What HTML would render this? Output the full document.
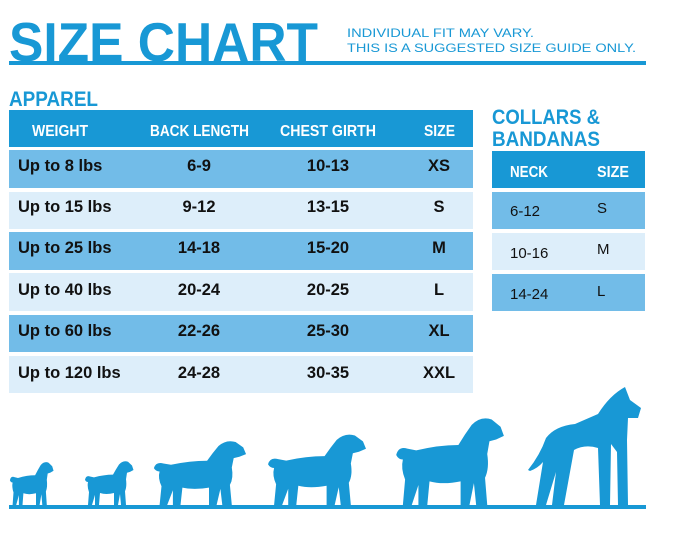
<!DOCTYPE html>
<html><head><meta charset="utf-8"><style>
html,body{margin:0;padding:0;background:#fff;}
svg{display:block;}
text{font-family:"Liberation Sans",sans-serif;}
</style></head><body>
<svg width="683" height="533" viewBox="0 0 683 533" xmlns="http://www.w3.org/2000/svg">
<rect width="683" height="533" fill="#fff"/>
<text x="9" y="61" font-size="55" font-weight="bold" fill="#1898d5" textLength="309" lengthAdjust="spacingAndGlyphs" style="font-family:'Liberation Sans Narrow','Liberation Sans',sans-serif">SIZE CHART</text>
<text x="347" y="37" font-size="12" fill="#1898d5" textLength="187" lengthAdjust="spacingAndGlyphs">INDIVIDUAL FIT MAY VARY.</text>
<text x="347" y="52" font-size="12" fill="#1898d5" textLength="289" lengthAdjust="spacingAndGlyphs">THIS IS A SUGGESTED SIZE GUIDE ONLY.</text>
<rect x="9" y="61" width="637" height="4" fill="#1898d5"/>

<text x="9" y="106" font-size="21" font-weight="bold" fill="#1898d5" textLength="89" lengthAdjust="spacingAndGlyphs">APPAREL</text>
<text x="492" y="124" font-size="21" font-weight="bold" fill="#1898d5" textLength="108" lengthAdjust="spacingAndGlyphs">COLLARS &amp;</text>
<text x="492" y="146" font-size="21" font-weight="bold" fill="#1898d5" textLength="108" lengthAdjust="spacingAndGlyphs">BANDANAS</text>

<rect x="9" y="110" width="464" height="37" fill="#1898d5"/>
<g font-size="16" font-weight="bold" fill="#fff">
<text x="32" y="136" textLength="56" lengthAdjust="spacingAndGlyphs">WEIGHT</text>
<text x="150" y="136" textLength="99" lengthAdjust="spacingAndGlyphs">BACK LENGTH</text>
<text x="280" y="136" textLength="96" lengthAdjust="spacingAndGlyphs">CHEST GIRTH</text>
<text x="424" y="136" textLength="31" lengthAdjust="spacingAndGlyphs">SIZE</text>
</g>
<rect x="9" y="150" width="464" height="38" fill="#72bce8"/>
<rect x="9" y="192" width="464" height="37" fill="#ddeefa"/>
<rect x="9" y="232" width="464" height="38" fill="#72bce8"/>
<rect x="9" y="273" width="464" height="38" fill="#ddeefa"/>
<rect x="9" y="315" width="464" height="37" fill="#72bce8"/>
<rect x="9" y="356" width="464" height="37" fill="#ddeefa"/>
<g font-size="16.5" font-weight="bold" fill="#111">
<text x="18" y="171">Up to 8 lbs</text><text x="199" y="171" text-anchor="middle">6-9</text><text x="328" y="171" text-anchor="middle">10-13</text><text x="439" y="171" text-anchor="middle">XS</text>
<text x="18" y="212">Up to 15 lbs</text><text x="199" y="212" text-anchor="middle">9-12</text><text x="328" y="212" text-anchor="middle">13-15</text><text x="439" y="212" text-anchor="middle">S</text>
<text x="18" y="253">Up to 25 lbs</text><text x="199" y="253" text-anchor="middle">14-18</text><text x="328" y="253" text-anchor="middle">15-20</text><text x="439" y="253" text-anchor="middle">M</text>
<text x="18" y="295">Up to 40 lbs</text><text x="199" y="295" text-anchor="middle">20-24</text><text x="328" y="295" text-anchor="middle">20-25</text><text x="439" y="295" text-anchor="middle">L</text>
<text x="18" y="336">Up to 60 lbs</text><text x="199" y="336" text-anchor="middle">22-26</text><text x="328" y="336" text-anchor="middle">25-30</text><text x="439" y="336" text-anchor="middle">XL</text>
<text x="18" y="378">Up to 120 lbs</text><text x="199" y="378" text-anchor="middle">24-28</text><text x="328" y="378" text-anchor="middle">30-35</text><text x="439" y="378" text-anchor="middle">XXL</text>
</g>

<rect x="492" y="151" width="153" height="37" fill="#1898d5"/>
<g font-size="16" font-weight="bold" fill="#fff">
<text x="510" y="177" textLength="38" lengthAdjust="spacingAndGlyphs">NECK</text>
<text x="597" y="177" textLength="32" lengthAdjust="spacingAndGlyphs">SIZE</text>
</g>
<rect x="492" y="192" width="153" height="37" fill="#72bce8"/>
<rect x="492" y="233" width="153" height="37" fill="#ddeefa"/>
<rect x="492" y="274" width="153" height="37" fill="#72bce8"/>
<g font-size="15" fill="#111">
<text x="510" y="216">6-12</text><text x="597" y="213">S</text>
<text x="510" y="258">10-16</text><text x="597" y="254">M</text>
<text x="510" y="299">14-24</text><text x="597" y="296">L</text>
</g>

<defs>
<path id="dog" d="M2,45 Q4,35 12,38 L20,40 Q40,34 58,34 Q64,22 70,12 Q78,2 88,6 L96,14 L99,24 L92,28 L86,30 L84,44 Q86,60 82,70 L84,100 L74,100 L72,76 L68,100 L60,100 L60,74 Q44,78 32,74 L30,100 L22,100 L22,78 L16,100 L8,100 L10,72 Q6,60 8,50 Q4,50 2,45 Z"/>
</defs>
<g fill="#1898d5">
<use href="#dog" transform="translate(9,460) scale(0.45,0.45)"/>
<use href="#dog" transform="translate(84,459) scale(0.5,0.46)"/>
<use href="#dog" transform="translate(152,438) scale(0.95,0.67)"/>
<use href="#dog" transform="translate(266,431) scale(1.01,0.74)"/>
<use href="#dog" transform="translate(394,414) scale(1.11,0.91)"/>
<path d="M528,470 Q540,455 546,438 Q555,426 575,424 L598,414 Q610,395 625,387 L630,400 L641,408 L638,418 L628,418 L627,440 L628,505 L618,505 L617,452 L611,444 L610,505 L600,505 L598,448 Q585,444 574,450 L564,505 L552,505 L556,472 L546,505 L536,505 L543,462 Q538,468 530,471 Z"/>
</g>
<rect x="9" y="505" width="637" height="4" fill="#1898d5"/>
</svg>
</body></html>
